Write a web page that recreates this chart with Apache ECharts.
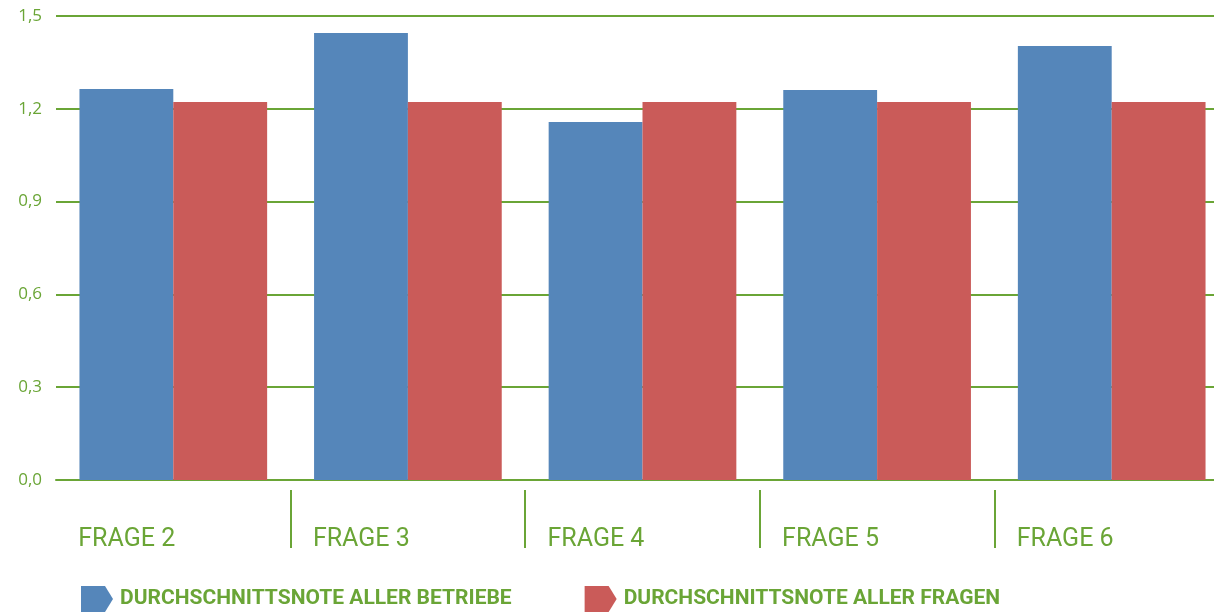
<!DOCTYPE html>
<html>
<head>
<meta charset="utf-8">
<script src="https://cdn.jsdelivr.net/npm/echarts@6/dist/echarts.min.js"></script>
<style>html,body{margin:0;padding:0;background:#fff;}#c{width:1214px;height:613px;}</style>
</head>
<body>
<div id="c"></div>
<script>
const categories = ['FRAGE 2', 'FRAGE 3', 'FRAGE 4', 'FRAGE 5', 'FRAGE 6'];
const seriesNames = ['DURCHSCHNITTSNOTE ALLER BETRIEBE', 'DURCHSCHNITTSNOTE ALLER FRAGEN'];
const betriebe = [1.264, 1.445, 1.157, 1.261, 1.403];
const fragen = [1.222, 1.222, 1.222, 1.222, 1.222];
const yTicks = { min: 0, max: 1.5, interval: 0.3 };

const GREEN = '#6aa536';
const BLUE = '#5586ba';
const RED = '#ca5b59';
const icon = 'path://M0,0 L24,0 L32,13 L24,26 L0,26 Z';

const chart = echarts.init(document.getElementById('c'), null, { renderer: 'canvas' });
chart.setOption({
  animation: false,
  backgroundColor: '#fff',
  grid: { left: 56, top: 16, width: 1173, bottom: 133, containLabel: false, outerBoundsMode: 'none' },
  legend: {
    left: 81, top: 586, padding: 0,
    itemWidth: 32, itemHeight: 26, itemGap: 73,
    icon: icon,
    textStyle: { color: GREEN, fontFamily: 'Roboto', fontWeight: 'bold', fontSize: 21, padding: [0, 0, 0, 2] },
    data: seriesNames.map(n => ({ name: n, icon: icon }))
  },
  xAxis: [
    {
      type: 'category', data: categories, position: 'bottom',
      axisLine: { show: true, lineStyle: { color: GREEN, width: 2 } },
      axisTick: { show: false },
      axisLabel: {
        margin: 47,
        formatter: v => '{a|' + v + '}',
        rich: { a: { width: 190, align: 'left', color: GREEN, fontFamily: 'Roboto', fontSize: 25, lineHeight: 25 } }
      }
    },
    {
      type: 'category', data: categories, position: 'bottom', offset: 10,
      axisLine: { show: false },
      axisLabel: { show: false },
      axisTick: { show: true, length: 58, interval: (i) => i > 0, lineStyle: { color: GREEN, width: 2 } }
    }
  ],
  yAxis: {
    type: 'value', min: yTicks.min, max: yTicks.max, interval: yTicks.interval,
    axisLine: { show: false }, axisTick: { show: false },
    axisLabel: {
      margin: 14, color: GREEN, fontFamily: 'Open Sans', fontSize: 17,
      formatter: v => v.toFixed(1).replace('.', ',')
    },
    splitLine: { lineStyle: { color: GREEN, width: 2 } }
  },
  series: [
    { name: seriesNames[0], type: 'bar', data: betriebe, itemStyle: { color: BLUE }, barGap: '0%', barCategoryGap: '20%' },
    { name: seriesNames[1], type: 'bar', data: fragen, itemStyle: { color: RED }, barGap: '0%', barCategoryGap: '20%' }
  ]
});
</script>
</body>
</html>
